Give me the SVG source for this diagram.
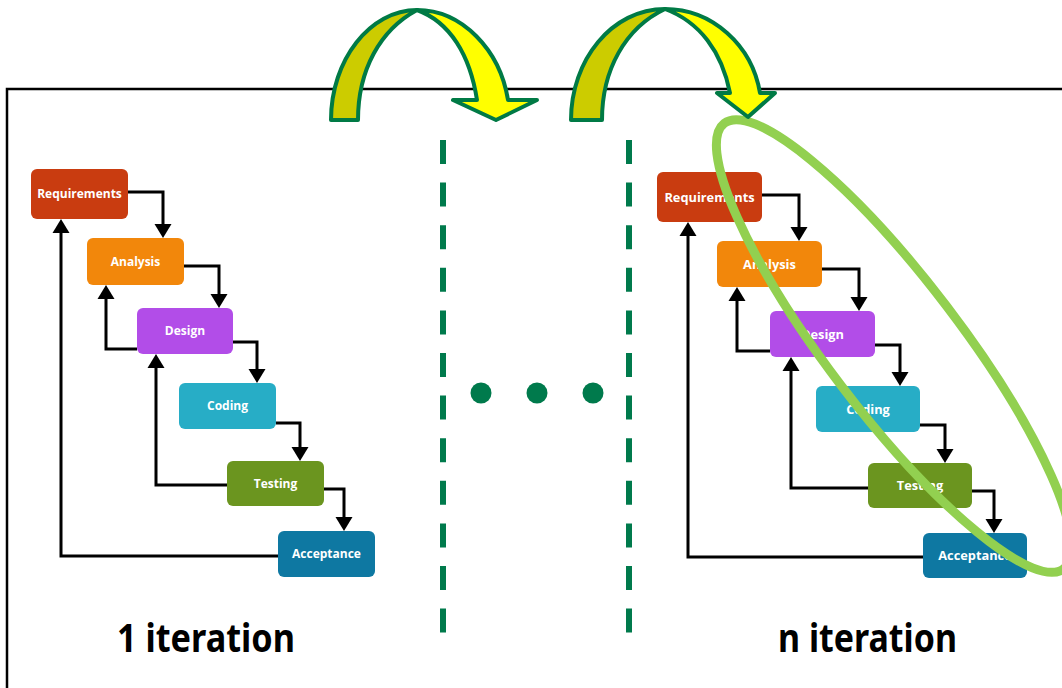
<svg xmlns="http://www.w3.org/2000/svg" width="1062" height="688" viewBox="0 0 1062 688">
  <defs>
    <style>
      .node rect { stroke: none; }
      .node text { fill: #ffffff; font-family: "Open Sans", "Noto Sans", sans-serif; font-weight: 700; text-anchor: middle; }
      .small text { font-size: 12px; }
      .large text { font-size: 12.8px; }
      .req { fill: #c93c10; }
      .ana { fill: #f2870b; }
      .des { fill: #b24de8; }
      .cod { fill: #27adc6; }
      .tst { fill: #6b951f; }
      .acc { fill: #0e78a2; }
      .conn path { fill: none; stroke: #000000; stroke-width: 3; marker-end: url(#head); }
      .sep { stroke: #007a4c; stroke-width: 6; stroke-dasharray: 24 18.6; fill: none; }
      .dot { fill: #007a4c; }
      .label { font-family: "Noto Sans", "Open Sans", sans-serif; font-weight: 700; font-size: 40px; fill: #000000; }
      .band { stroke: #007a45; stroke-width: 4; stroke-linejoin: round; }
      .back { fill: #cccc00; }
      .front { fill: #ffff00; }
    </style>
    <marker id="head" markerUnits="userSpaceOnUse" markerWidth="20" markerHeight="20" viewBox="-11 -10 16 20" refX="0" refY="0" orient="auto">
      <path d="M-10,-8.5 L4,0 L-10,8.5 Z" fill="#000000"/>
    </marker>
  </defs>

  <rect x="0" y="0" width="1062" height="688" fill="#ffffff"/>

  <!-- frame -->
  <path d="M7,688 V89 H1062" fill="none" stroke="#000000" stroke-width="2.5"/>

  <!-- separators and ellipsis dots -->
  <g id="separators">
    <line class="sep" x1="443" y1="140" x2="443" y2="633"/>
    <line class="sep" x1="629" y1="140" x2="629" y2="633"/>
    <circle class="dot" cx="481" cy="393" r="10.5"/>
    <circle class="dot" cx="537" cy="393" r="10.5"/>
    <circle class="dot" cx="593" cy="393" r="10.5"/>
  </g>

  <!-- first waterfall -->
  <g id="connectors-left" class="conn">
    <path d="M128,192 H163 V234"/>
    <path d="M184,266 H219 V304"/>
    <path d="M233,342 H257 V379"/>
    <path d="M276,423 H300 V457"/>
    <path d="M324,489 H344 V527"/>
    <path d="M137,349 H106 V289"/>
    <path d="M227,485 H156 V358"/>
    <path d="M278,556 H61 V223"/>
  </g>
  <g id="req1" class="node small"><rect class="req" x="31" y="169" width="97" height="50" rx="6"/><text x="79.5" y="198.3">Requirements</text></g>
  <g id="ana1" class="node small"><rect class="ana" x="87" y="238" width="97" height="47" rx="6"/><text x="135.5" y="265.8">Analysis</text></g>
  <g id="des1" class="node small"><rect class="des" x="137" y="308" width="96" height="46" rx="6"/><text x="185" y="335.3">Design</text></g>
  <g id="cod1" class="node small"><rect class="cod" x="179" y="383" width="97" height="46" rx="6"/><text x="227.5" y="410.3">Coding</text></g>
  <g id="tst1" class="node small"><rect class="tst" x="227" y="461" width="97" height="45" rx="6"/><text x="275.5" y="487.8">Testing</text></g>
  <g id="acc1" class="node small"><rect class="acc" x="278" y="531" width="97" height="46" rx="6"/><text x="326.5" y="558.3">Acceptance</text></g>

  <!-- n-th waterfall -->
  <g id="connectors-right" class="conn">
    <path d="M762,195 H799 V237"/>
    <path d="M822,269 H859 V307"/>
    <path d="M875,345 H900 V382"/>
    <path d="M920,425 H945 V459"/>
    <path d="M972,491 H994 V529"/>
    <path d="M770,351 H737 V291"/>
    <path d="M868,488 H791 V361"/>
    <path d="M923,557 H688 V226"/>
  </g>
  <g id="req2" class="node large"><rect class="req" x="657" y="172" width="105" height="50" rx="6"/><text x="709.5" y="201.6">Requirements</text></g>
  <g id="ana2" class="node large"><rect class="ana" x="717" y="241" width="105" height="46" rx="6"/><text x="769.5" y="268.6">Analysis</text></g>
  <g id="des2" class="node large"><rect class="des" x="770" y="311" width="105" height="46" rx="6"/><text x="822.5" y="338.6">Design</text></g>
  <g id="cod2" class="node large"><rect class="cod" x="816" y="386" width="104" height="46" rx="6"/><text x="868" y="413.6">Coding</text></g>
  <g id="tst2" class="node large"><rect class="tst" x="868" y="463" width="104" height="45" rx="6"/><text x="920" y="490.1">Testing</text></g>
  <g id="acc2" class="node large"><rect class="acc" x="923" y="533" width="104" height="45" rx="6"/><text x="975" y="560.1">Acceptance</text></g>

  <!-- highlight ring -->
  <g id="highlight">
    <ellipse cx="894" cy="346" rx="280" ry="66" transform="rotate(52.7 894 346)" fill="none" stroke="#92d050" stroke-width="9"/>
  </g>

  <!-- curved arrows over the frame -->
  <g id="jump1">
    <path class="band back" d="M331,120 C331,60 370,10 417,10 C380,30 358,70 358,120 Z"/>
    <path class="band front" d="M417,10 C462,10 500,50 508,100 L537,100 L496,120 L453,100 L477,100 C470,55 450,22 417,10 Z"/>
  </g>
  <g id="jump2">
    <path class="band back" d="M571,120 C571,60 612,9 665,9 C625,28 602,70 602,120 Z"/>
    <path class="band front" d="M665,9 C712,9 752,45 760,93 L775,93 L748,117 L717,93 L730,93 C722,52 700,22 665,9 Z"/>
  </g>

  <!-- captions -->
  <text class="label" x="117" y="652" textLength="178" lengthAdjust="spacingAndGlyphs">1 iteration</text>
  <text class="label" x="778" y="652" textLength="179" lengthAdjust="spacingAndGlyphs">n iteration</text>
</svg>
